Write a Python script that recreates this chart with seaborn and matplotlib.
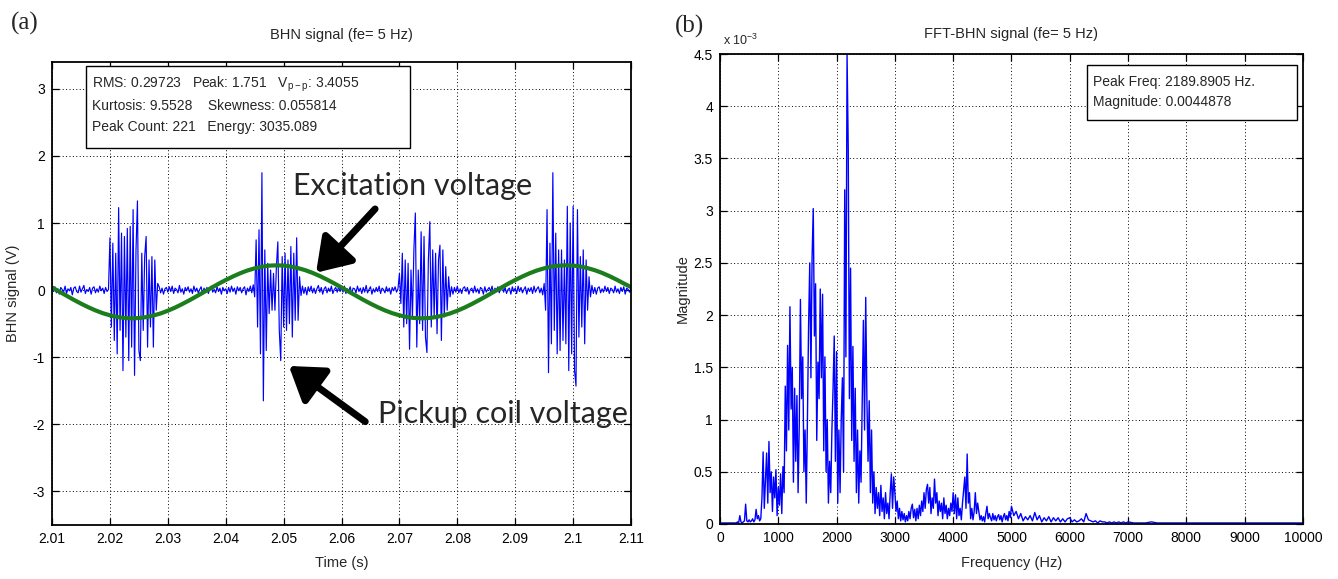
import numpy as np
import pandas as pd
import matplotlib
matplotlib.use("Agg")
import matplotlib.pyplot as plt
from matplotlib.patches import Rectangle
from matplotlib.ticker import FuncFormatter, MultipleLocator
import seaborn as sns

# ---------------- data: (a) time signal ----------------
t_start = 2.010          # s
t_step = 0.00025         # s, pickup coil sampling step
pickup_rows = [
    [0.03,-0.02,0.05,-0.04,0.02,-0.06,0.04,0.01,-0.03,0.06,-0.05,0.02,-0.01,0.04,-0.07,0.03,0.05,-0.02,-0.04,0.06,
     -0.03,0.02,0.07,-0.05,0.01,-0.02,0.04,-0.06,0.03,0.05,-0.04,0.02,-0.03,0.06,-0.01,0.03,-0.05,0.04,-0.02,0.01],
    [0.78,-0.55,0.70,-0.75,0.55,-0.95,1.23,-0.60,0.85,-1.20,0.80,-0.70,0.92,-1.05,0.95,-0.85,1.20,-1.27,0.60,1.33,
     -0.90,-1.05,0.55,-0.60,0.50,0.80,-0.85,0.45,-0.55,0.50,-0.85,0.45,-0.30,0.10,0.05,-0.04,0.03,-0.06,0.02,0.04],
    [-0.03,0.05,-0.02,0.06,-0.05,0.03,0.01,-0.04,0.07,-0.03,0.02,-0.06,0.04,-0.01,0.05,-0.03,0.02,-0.05,0.06,-0.02,
     0.03,-0.04,0.01,0.05,-0.06,0.03,-0.02,0.04,-0.05,0.02,0.06,-0.03,0.01,-0.04,0.05,-0.02,0.03,-0.06,0.04,-0.01],
    [0.02,-0.05,0.04,-0.03,0.06,-0.02,0.03,-0.06,0.05,-0.01,0.04,-0.04,0.02,0.05,-0.07,0.03,-0.02,0.06,-0.04,0.08,
     -0.10,0.75,-0.55,0.90,-0.95,1.75,-1.65,0.60,-0.90,0.40,-0.35,0.30,-0.30,0.25,-0.30,0.35,0.72,-0.60,-1.05,0.50],
    [-0.55,0.55,-0.60,0.45,-0.50,0.65,-0.70,0.55,-0.45,0.78,-0.45,0.20,-0.08,0.06,-0.05,0.04,-0.07,0.05,-0.02,0.06,
     -0.04,0.03,-0.05,0.02,0.07,-0.03,0.04,-0.06,0.02,0.05,-0.04,0.03,-0.02,0.06,-0.05,0.01,0.04,-0.03,0.05,-0.02],
    [0.04,-0.03,0.06,-0.05,0.02,-0.01,0.05,-0.06,0.03,0.02,-0.04,0.06,-0.02,0.03,-0.05,0.04,-0.03,0.07,-0.04,0.01,
     0.05,-0.06,0.02,-0.03,0.04,-0.02,0.06,-0.05,0.03,0.01,-0.04,0.05,-0.02,0.03,-0.06,0.04,-0.01,0.05,-0.03,0.02],
    [0.25,-0.20,0.55,-0.55,0.45,-0.50,0.40,-0.88,0.30,-0.40,0.60,1.15,-0.85,0.30,-0.50,0.87,-0.60,0.80,-0.70,-0.93,
     0.45,1.02,-0.55,0.60,-0.40,0.55,-0.65,0.45,0.67,-0.75,0.60,-0.40,0.35,-0.30,0.20,-0.10,0.05,-0.06,0.04,-0.03],
    [0.06,-0.04,0.02,-0.05,0.03,0.05,-0.02,0.04,-0.06,0.01,0.03,-0.04,0.06,-0.03,0.02,-0.05,0.04,0.02,-0.06,0.05,
     -0.03,0.01,0.04,-0.02,0.06,-0.05,0.03,-0.01,0.05,-0.04,0.02,0.06,-0.03,0.04,-0.05,0.01,0.03,-0.06,0.05,-0.02],
    [0.03,-0.05,0.06,-0.02,0.04,-0.04,0.01,0.05,-0.06,0.03,-0.02,0.04,-0.05,0.06,-0.03,0.02,0.05,-0.04,0.03,-0.07,
     0.10,-0.30,1.20,-1.23,0.70,-0.80,1.75,-0.60,0.85,-0.95,0.60,-0.90,0.60,-0.75,0.45,-0.80,1.25,-1.20,1.00,-0.95],
    [1.25,-1.20,-1.43,1.20,-0.70,0.50,-0.55,0.60,-0.80,0.45,-0.30,0.20,-0.10,0.07,-0.05,0.04,-0.06,0.03,0.05,-0.04,
     0.02,-0.03,0.06,-0.02,0.04,-0.05,0.03,0.01,-0.04,0.06,-0.03,0.02,-0.05,0.04,-0.02,0.05,-0.06,0.03,0.01,-0.03],
    [0.02],
]
pickup_v = [v for row in pickup_rows for v in row]

exc_step = 0.00125       # s, excitation sampling step
excitation_v = [
    0.040,-0.022,-0.083,-0.144,-0.201,-0.254,-0.302,-0.343,-0.375,-0.400,
    -0.415,-0.420,-0.416,-0.402,-0.378,-0.347,-0.307,-0.260,-0.207,-0.150,
    -0.090,-0.028,0.033,0.094,0.151,0.204,0.252,0.293,0.325,0.350,
    0.365,0.370,0.366,0.352,0.328,0.297,0.257,0.210,0.157,0.100,
    0.040,-0.022,-0.083,-0.144,-0.201,-0.254,-0.302,-0.343,-0.375,-0.400,
    -0.415,-0.420,-0.416,-0.402,-0.378,-0.347,-0.307,-0.260,-0.207,-0.150,
    -0.090,-0.028,0.033,0.094,0.151,0.204,0.252,0.293,0.325,0.350,
    0.365,0.370,0.366,0.352,0.328,0.297,0.257,0.210,0.157,0.100,
    0.045,
]

stats_lines = ["RMS: 0.29723   Peak: 1.751   V$_{\\rm p-p}$: 3.4055",
               "Kurtosis: 9.5528    Skewness: 0.055814",
               "Peak Count: 221   Energy: 3035.089"]

# ---------------- data: (b) spectrum (magnitude in units of 1e-3) ----------------
fft_segments = [
    # (start Hz, step Hz, magnitudes)
    (0, 20, [0.01,0.01,0.01,0.01,0.01,0.01,0.01,0.01,0.01,0.01,
             0.01,0.01,0.01,0.01,0.01,0.02,0.01,0.08,0.02,0.01,
             0.02,0.03,0.19,0.03,0.02,0.04,0.02,0.03,0.05,0.02,
             0.04,0.14,0.05,0.08,0.03]),
    (700, 20, [0.05,0.25,0.69,0.15,0.42,0.68,0.20,0.79,0.30,0.50,
               0.12,0.45,0.25,0.52,0.08,0.35,0.18,0.48,0.10,0.55,
               0.30,1.32,0.70,1.71,0.90,2.08,1.10,1.50,0.40,1.30,
               0.60,1.23,0.30,0.95,2.15,1.20,1.60,0.50,0.90,0.20,
               1.00,1.90,2.50,1.40,2.55,3.02,1.80,2.30,0.80,1.55,
               1.20,2.25,1.40,2.20,0.70,1.60,0.50,1.00,0.20,0.60,
               0.30,0.90,1.30,1.80,0.60,1.65,0.20,0.90,0.30,1.00,
               1.40,0.50,3.20,1.60,4.49,3.60,1.20,2.45,0.80,1.70,
               0.60,1.30,0.30,0.90,0.20,0.70,0.40,1.20,1.95,0.90,
               2.17,1.20,0.60,1.18,0.30,0.90,0.20,0.50,0.10,0.35,
               0.15,0.30,0.08,0.37,0.12,0.25,0.05,0.30,0.10,0.20,
               0.05,0.30,0.48,0.15,0.45]),
    (3000, 20, [0.30,0.12,0.22,0.05,0.15,0.03,0.12,0.04,0.10,0.02,
                0.08,0.03,0.12,0.05,0.15,0.19,0.06,0.14,0.03,0.15,
                0.05,0.18,0.08,0.22,0.12,0.30,0.15,0.33,0.38,0.20,
                0.35,0.10,0.25,0.15,0.43,0.20,0.30,0.08,0.22,0.12,
                0.20,0.05,0.25,0.10,0.18,0.05,0.15,0.08,0.20,0.12,
                0.30,0.10,0.28,0.05,0.25,0.08,0.15,0.04,0.20,0.33,
                0.45,0.15,0.67,0.20,0.30,0.05,0.15,0.04,0.12,0.30,
                0.10,0.20,0.12,0.04,0.08,0.03,0.07,0.02,0.10,0.17,
                0.05,0.10,0.06,0.03,0.10,0.04,0.08,0.03,0.07,0.09,
                0.04,0.08,0.02,0.07,0.10,0.04,0.08,0.03,0.12,0.06]),
    (5000, 40, [0.17,0.08,0.12,0.05,0.10,0.03,0.07,0.04,0.08,0.03,
                0.11,0.04,0.08,0.02,0.06,0.03,0.07,0.02,0.06,0.03,
                0.06,0.02,0.05,0.02,0.05,0.06,0.02,0.04,0.02,0.03,
                0.05,0.02,0.10,0.04,0.03,0.02,0.03,0.01,0.03,0.02,
                0.02,0.01,0.02,0.01,0.02,0.01,0.02,0.01,0.02,0.01]),
    (7000, 100, [0.02,0.01,0.01,0.01,0.02,0.01,0.01,0.01,0.01,0.01,
                 0.01,0.01,0.01,0.01,0.01,0.01,0.01,0.01,0.01,0.01,
                 0.01,0.01,0.01,0.01,0.01,0.01,0.01,0.01,0.01,0.01,
                 0.01]),
]
peak_lines = ["Peak Freq: 2189.8905 Hz.", "Magnitude: 0.0044878"]

# ---------------- build tables ----------------
df_pick = pd.DataFrame({"t": t_start + np.arange(len(pickup_v)) * t_step, "v": pickup_v})
df_exc = pd.DataFrame({"t": t_start + np.arange(len(excitation_v)) * exc_step, "v": excitation_v})
f_all, m_all = [], []
for f0, df_, mags in fft_segments:
    f_all.extend(f0 + np.arange(len(mags)) * df_)
    m_all.extend(mags)
df_fft = pd.DataFrame({"f": f_all, "m": m_all})

# ---------------- style ----------------
sns.set_theme(style="ticks")
plt.rcParams["font.family"] = ["Liberation Sans", "DejaVu Sans"]
plt.rcParams["axes.unicode_minus"] = False
plt.rcParams["mathtext.fontset"] = "custom"
plt.rcParams["mathtext.rm"] = "Liberation Sans"

fig = plt.figure(figsize=(13.38, 5.79), dpi=100)
fig.patch.set_facecolor("white")
ax1 = fig.add_axes([0.0389, 0.0933, 0.4327, 0.7996])
ax2 = fig.add_axes([0.5381, 0.0950, 0.4357, 0.8117])

grid_kw = dict(color="black", linestyle=(0, (1, 2.5)), linewidth=0.7)
fmt = FuncFormatter(lambda v, p: "%g" % round(v, 6))

for ax in (ax1, ax2):
    ax.set_facecolor("white")
    ax.grid(True, **grid_kw)
    ax.tick_params(direction="in", top=True, right=True, length=5, width=0.9,
                   labelsize=10, colors="black", pad=5)
    for s in ax.spines.values():
        s.set_color("black")
        s.set_linewidth(1.3)
    ax.xaxis.set_major_formatter(fmt)
    ax.yaxis.set_major_formatter(fmt)

# ---- (a) ----
sns.lineplot(data=df_pick, x="t", y="v", ax=ax1, color="#0000ff", linewidth=0.85,
             estimator=None, errorbar=None, sort=False)
sns.lineplot(data=df_exc, x="t", y="v", ax=ax1, color="#1b7d1b", linewidth=3.0,
             estimator=None, errorbar=None, sort=False)
ax1.set_xlim(2.01, 2.11)
ax1.set_ylim(-3.5, 3.4)
ax1.xaxis.set_major_locator(MultipleLocator(0.01))
ax1.set_yticks([-3, -2, -1, 0, 1, 2, 3])
ax1.set_xlabel("Time (s)", fontsize=10.5)
ax1.set_ylabel("BHN signal (V)", fontsize=10.5)
ax1.xaxis.set_label_coords(0.5, -0.068)
ax1.yaxis.set_label_coords(-0.055, 0.5)
ax1.text(0.5, 1.058, "BHN signal (fe= 5 Hz)", transform=ax1.transAxes,
         ha="center", va="center", fontsize=10.5)

ax1.add_patch(Rectangle((0.0587, 0.815), 0.5596, 0.176, transform=ax1.transAxes,
                        facecolor="white", edgecolor="black", linewidth=1.0, zorder=5))
for i, line in enumerate(stats_lines):
    ax1.text(0.069, 0.952 - i * 0.046, line, transform=ax1.transAxes,
             ha="left", va="center", fontsize=10, zorder=6)

ann_font = ["Lato", "DejaVu Sans"]
ax1.text(2.0516, 1.55, "Excitation voltage", fontsize=22, family=ann_font,
         ha="left", va="center", zorder=7)
ax1.text(2.0663, -1.84, "Pickup coil voltage", fontsize=22, family=ann_font,
         ha="left", va="center", zorder=7, clip_on=False)
arrow_kw = dict(arrowstyle="-|>,head_length=0.9,head_width=0.6", lw=5,
                color="black", mutation_scale=22, shrinkA=0, shrinkB=0)
ax1.annotate("", xy=(2.0556, 0.26), xytext=(2.0658, 1.21), arrowprops=arrow_kw, zorder=7)
ax1.annotate("", xy=(2.0509, -1.13), xytext=(2.0641, -1.96), arrowprops=arrow_kw, zorder=7)

# ---- (b) ----
sns.lineplot(data=df_fft, x="f", y="m", ax=ax2, color="#0000ff", linewidth=1.0,
             estimator=None, errorbar=None, sort=False)
ax2.set_xlim(0, 10000)
ax2.set_ylim(0, 4.5)
ax2.xaxis.set_major_locator(MultipleLocator(1000))
ax2.yaxis.set_major_locator(MultipleLocator(0.5))
ax2.set_xlabel("Frequency (Hz)", fontsize=10.5)
ax2.set_ylabel("Magnitude", fontsize=10.5)
ax2.xaxis.set_label_coords(0.5, -0.068)
ax2.yaxis.set_label_coords(-0.052, 0.5)
ax2.text(0.5, 1.043, "FFT-BHN signal (fe= 5 Hz)", transform=ax2.transAxes,
         ha="center", va="center", fontsize=10.5)
ax2.text(0.005, 1.012, "x 10$^{-3}$", transform=ax2.transAxes, ha="left", va="bottom",
         fontsize=9)
ax2.add_patch(Rectangle((0.630, 0.860), 0.360, 0.117, transform=ax2.transAxes,
                        facecolor="white", edgecolor="black", linewidth=1.0, zorder=5))
for i, line in enumerate(peak_lines):
    ax2.text(0.640, 0.940 - i * 0.043, line, transform=ax2.transAxes,
             ha="left", va="center", fontsize=10, zorder=6)

# panel labels
fig.text(0.0187, 0.959, "(a)", family=["Liberation Serif", "DejaVu Serif"], fontsize=18,
         ha="center", va="center")
fig.text(0.5155, 0.955, "(b)", family=["Liberation Serif", "DejaVu Serif"], fontsize=18,
         ha="center", va="center")

fig.savefig("out.png", dpi=100, facecolor="white")
